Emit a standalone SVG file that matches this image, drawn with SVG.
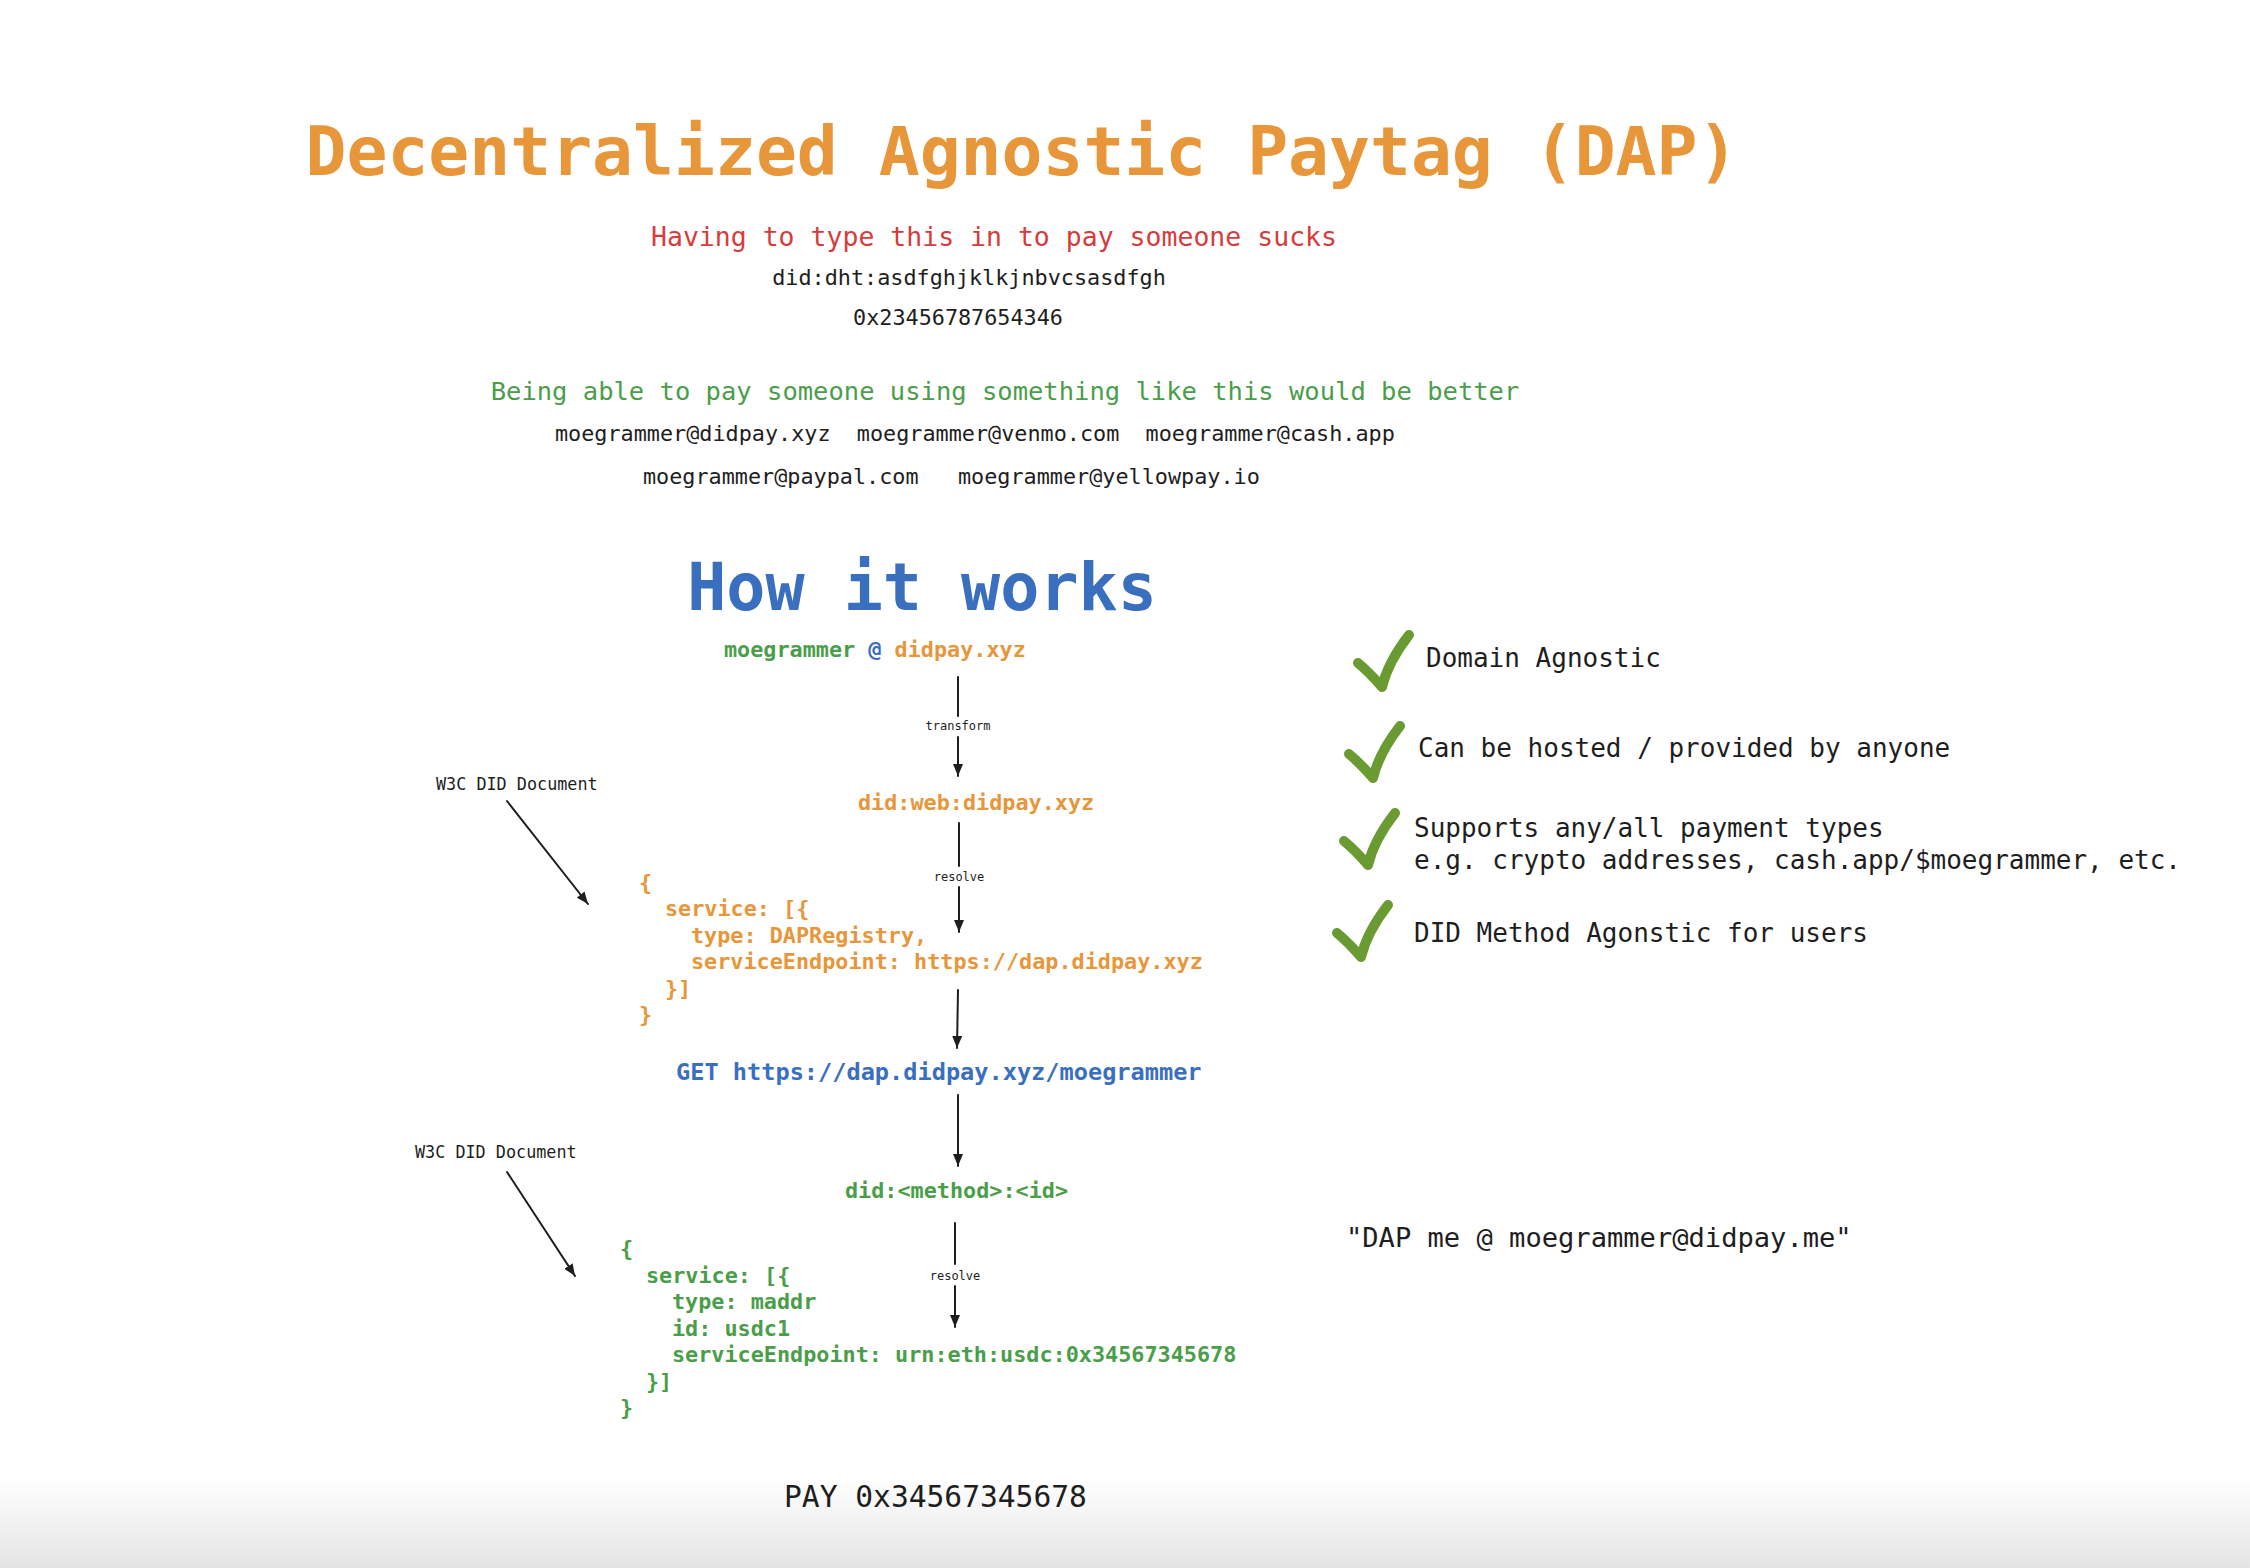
<svg xmlns="http://www.w3.org/2000/svg" width="2250" height="1568" viewBox="0 0 2250 1568">
<defs>
<linearGradient id="bottomfade" x1="0" y1="0" x2="0" y2="1">
<stop offset="0" stop-color="#ffffff"/>
<stop offset="1" stop-color="#e4e4e4"/>
</linearGradient>
<marker id="ah" viewBox="0 0 12 10" refX="12" refY="5" markerWidth="12" markerHeight="10" markerUnits="userSpaceOnUse" orient="auto">
<path d="M0,0 L12,5 L0,10 z" fill="#1e1e1e"/>
</marker>
<path id="check" d="M3,31 Q14,40 27,55 Q33,30 54,3"/>
</defs>
<style>
text { font-family: "DejaVu Sans Mono", "Liberation Mono", monospace; white-space: pre; }
.orange { fill: #e8963a; }
.green { fill: #4a9e4a; }
.blue { fill: #3a6fc0; }
.red { fill: #d63c3c; }
.dark { fill: #1e1e1e; }
.code { font-size: 21.8px; }
.small { font-size: 12px; fill: #1e1e1e; }
.feat { font-size: 26px; fill: #1e1e1e; }
.conn { stroke: #1e1e1e; stroke-width: 2; fill: none; stroke-linecap: round; }
.chk { stroke: #6a9a32; stroke-width: 10; fill: none; stroke-linecap: round; stroke-linejoin: round; }
</style>
<rect x="0" y="0" width="2250" height="1568" fill="#ffffff"/>
<rect x="0" y="1478" width="2250" height="90" fill="url(#bottomfade)"/>

<g id="title">
<text x="1022" y="175" font-size="68" font-weight="bold" text-anchor="middle" class="orange">Decentralized Agnostic Paytag (DAP)</text>
</g>

<g id="problem">
<text x="994" y="246" font-size="26.5" text-anchor="middle" class="red">Having to type this in to pay someone sucks</text>
<text x="969" y="285" class="code dark" text-anchor="middle">did:dht:asdfghjklkjnbvcsasdfgh</text>
<text x="958" y="325" class="code dark" text-anchor="middle">0x23456787654346</text>
</g>

<g id="solution">
<text x="1005" y="400" font-size="25.5" text-anchor="middle" class="green">Being able to pay someone using something like this would be better</text>
<text x="555" y="441" class="code dark" xml:space="preserve">moegrammer@didpay.xyz  moegrammer@venmo.com  moegrammer@cash.app</text>
<text x="643" y="484" class="code dark" xml:space="preserve">moegrammer@paypal.com   moegrammer@yellowpay.io</text>
</g>

<g id="how-title">
<text x="922" y="610" font-size="65" font-weight="bold" text-anchor="middle" class="blue">How it works</text>
</g>

<g id="node-paytag">
<text x="724" y="657" class="code" font-weight="bold" xml:space="preserve"><tspan class="green">moegrammer</tspan> <tspan class="blue">@</tspan> <tspan class="orange">didpay.xyz</tspan></text>
</g>

<g id="node-didweb">
<text x="858" y="810" class="code orange" font-weight="bold">did:web:didpay.xyz</text>
</g>

<g id="label-w3c-1">
<text x="436" y="790" font-size="16.8" class="dark">W3C DID Document</text>
</g>

<g id="node-doc1" class="code orange" font-weight="bold">
<text x="639" y="890">{</text>
<text x="665" y="916.4">service: [{</text>
<text x="691" y="942.8">type: DAPRegistry,</text>
<text x="691" y="969.2">serviceEndpoint: https://dap.didpay.xyz</text>
<text x="665" y="995.6">}]</text>
<text x="639" y="1022">}</text>
</g>

<g id="node-get">
<text x="676" y="1080" font-size="23.6" class="blue" font-weight="bold">GET https://dap.didpay.xyz/moegrammer</text>
</g>

<g id="node-didmethod">
<text x="845" y="1198" class="code green" font-weight="bold">did:&lt;method&gt;:&lt;id&gt;</text>
</g>

<g id="label-w3c-2">
<text x="415" y="1158" font-size="16.8" class="dark">W3C DID Document</text>
</g>

<g id="node-doc2" class="code green" font-weight="bold">
<text x="620" y="1256">{</text>
<text x="646" y="1282.5">service: [{</text>
<text x="672" y="1309">type: maddr</text>
<text x="672" y="1335.5">id: usdc1</text>
<text x="672" y="1362">serviceEndpoint: urn:eth:usdc:0x34567345678</text>
<text x="646" y="1388.5">}]</text>
<text x="620" y="1415">}</text>
</g>

<g id="node-pay">
<text x="784" y="1507" font-size="29.6" class="dark">PAY 0x34567345678</text>
</g>

<g id="features">
<g id="feature-1">
<use href="#check" class="chk" transform="translate(1355,632)"/>
<text x="1426" y="667" class="feat">Domain Agnostic</text>
</g>
<g id="feature-2">
<use href="#check" class="chk" transform="translate(1346,723)"/>
<text x="1418" y="757" class="feat">Can be hosted / provided by anyone</text>
</g>
<g id="feature-3">
<use href="#check" class="chk" transform="translate(1341,810)"/>
<text x="1414" y="837" class="feat">Supports any/all payment types</text>
<text x="1414" y="869" class="feat">e.g. crypto addresses, cash.app/$moegrammer, etc.</text>
</g>
<g id="feature-4">
<use href="#check" class="chk" transform="translate(1334,902)"/>
<text x="1414" y="942" class="feat">DID Method Agonstic for users</text>
</g>
</g>

<g id="quote">
<text x="1346" y="1247" font-size="27.1" class="dark">"DAP me @ moegrammer@didpay.me"</text>
</g>

<g id="connectors">
<g id="c-transform">
<path class="conn" d="M958,677 L958,716"/>
<path class="conn" d="M958,737 L958,776" marker-end="url(#ah)"/>
<text x="958" y="730" class="small" text-anchor="middle">transform</text>
</g>
<g id="c-resolve-1">
<path class="conn" d="M959,823 L959,866"/>
<path class="conn" d="M959,887 L959,932" marker-end="url(#ah)"/>
<text x="959" y="881" class="small" text-anchor="middle">resolve</text>
</g>
<g id="c-get">
<path class="conn" d="M958,990 L957,1048" marker-end="url(#ah)"/>
</g>
<g id="c-didmethod">
<path class="conn" d="M958,1095 L958,1166" marker-end="url(#ah)"/>
</g>
<g id="c-resolve-2">
<path class="conn" d="M955,1223 L955,1264"/>
<path class="conn" d="M955,1286 L955,1327" marker-end="url(#ah)"/>
<text x="955" y="1280" class="small" text-anchor="middle">resolve</text>
</g>
<path id="c-w3c-1" class="conn" d="M507,801 L588,904" marker-end="url(#ah)"/>
<path id="c-w3c-2" class="conn" d="M507,1172 L575,1276" marker-end="url(#ah)"/>
</g>
</svg>
